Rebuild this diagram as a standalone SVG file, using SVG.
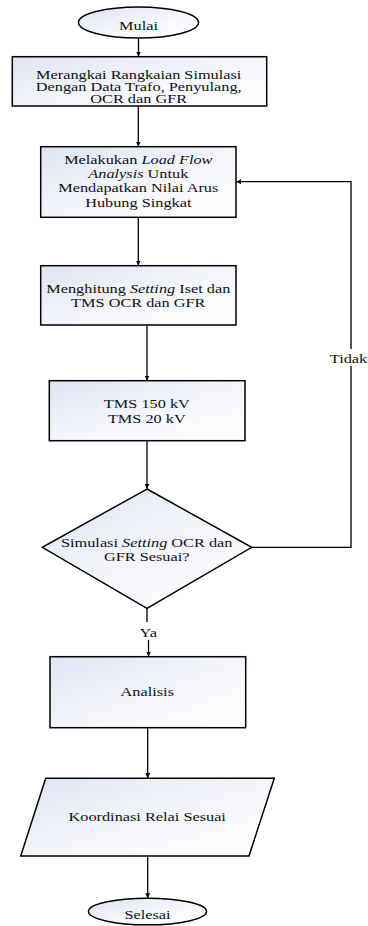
<svg xmlns="http://www.w3.org/2000/svg" width="368" height="926" viewBox="0 0 368 926">
<style>
.t{font-family:"Liberation Serif","Times New Roman",serif;font-size:16.3px;fill:#111;text-anchor:middle}
.tl{font-family:"Liberation Serif","Times New Roman",serif;font-size:16.3px;fill:#111}
.i{font-style:italic}
.shape{fill:url(#g);stroke:#000;stroke-width:1.5}
.c{fill:none;stroke:#000;stroke-width:1.3}
</style>
<defs>
<linearGradient id="g" x1="0" y1="0" x2="1" y2="1">
<stop offset="0" stop-color="#dde4f2"/>
<stop offset="0.6" stop-color="#f7f8fc"/>
<stop offset="1" stop-color="#ffffff"/>
</linearGradient>
<marker id="a" viewBox="0 0 10 10" refX="10" refY="5" markerWidth="5" markerHeight="5" orient="auto" markerUnits="userSpaceOnUse">
<path d="M0,0 L10,5 L0,10 z" fill="#000"/>
</marker>
</defs>
<g id="connectors">
<line class="c" x1="138.5" y1="38" x2="138.5" y2="56.5" marker-end="url(#a)"/>
<line class="c" x1="138.3" y1="106" x2="138.3" y2="146.5" marker-end="url(#a)"/>
<line class="c" x1="138.3" y1="217.3" x2="138.3" y2="265.5" marker-end="url(#a)"/>
<line class="c" x1="147" y1="325" x2="147" y2="380.5" marker-end="url(#a)"/>
<line class="c" x1="147" y1="440.7" x2="147" y2="488.8" marker-end="url(#a)"/>
<polyline class="c" points="251.7,547.3 351,547.3 351,181.7 236.2,181.7" marker-end="url(#a)"/>
<line class="c" x1="147" y1="608.3" x2="147" y2="622"/>
<line class="c" x1="148.5" y1="640" x2="148.5" y2="656.5" marker-end="url(#a)"/>
<line class="c" x1="147.7" y1="727.7" x2="147.7" y2="778.1" marker-end="url(#a)"/>
<line class="c" x1="147.7" y1="856" x2="147.7" y2="898.2" marker-end="url(#a)"/>
<rect x="329" y="349" width="39" height="17" fill="#fff"/>
<text class="tl" transform="matrix(1 0 0 0.82 329.8 363)">Tidak</text>
<text class="t" transform="matrix(1 0 0 0.82 148.3 636.7)">Ya</text>
</g>
<g id="mulai">
<ellipse class="shape" cx="138.5" cy="22.5" rx="60" ry="15.5"/>
<text class="t" transform="matrix(1 0 0 0.82 138.5 29.5)">Mulai</text>
</g>
<g id="merangkai">
<rect class="shape" x="12.3" y="56.7" width="254.4" height="49.3"/>
<text class="t" transform="matrix(1 0 0 0.82 138.7 78.5)">Merangkai Rangkaian Simulasi</text>
<text class="t" transform="matrix(1 0 0 0.82 138.7 91)">Dengan Data Trafo, Penyulang,</text>
<text class="t" transform="matrix(1 0 0 0.82 138.7 103.3)">OCR dan GFR</text>
</g>
<g id="loadflow">
<rect class="shape" x="40.7" y="146.7" width="195.3" height="70.6"/>
<text class="t" transform="matrix(1 0 0 0.82 138.3 163.7)">Melakukan <tspan class="i">Load Flow</tspan></text>
<text class="t" transform="matrix(1 0 0 0.82 138.3 177.7)"><tspan class="i">Analysis</tspan> Untuk</text>
<text class="t" transform="matrix(1 0 0 0.82 138.3 192)">Mendapatkan Nilai Arus</text>
<text class="t" transform="matrix(1 0 0 0.82 138.3 206.7)">Hubung Singkat</text>
</g>
<g id="menghitung">
<rect class="shape" x="40.7" y="265.7" width="195.3" height="59.3"/>
<text class="t" transform="matrix(1 0 0 0.82 138.3 292.7)">Menghitung <tspan class="i">Setting</tspan> Iset dan</text>
<text class="t" transform="matrix(1 0 0 0.82 138.3 307)">TMS OCR dan GFR</text>
</g>
<g id="tms">
<rect class="shape" x="49.3" y="380.7" width="195.7" height="60"/>
<text class="t" transform="matrix(1 0 0 0.82 146.8 407.7)">TMS 150 kV</text>
<text class="t" transform="matrix(1 0 0 0.82 146.8 423.3)">TMS 20 kV</text>
</g>
<g id="simulasi">
<polygon class="shape" points="147,489 251.7,547.3 147,608.3 42.3,547.3"/>
<text class="t" transform="matrix(1 0 0 0.82 146.7 546.7)">Simulasi <tspan class="i">Setting</tspan> OCR dan</text>
<text class="t" transform="matrix(1 0 0 0.82 146.7 561)">GFR Sesuai?</text>
</g>
<g id="analisis">
<rect class="shape" x="50" y="656.7" width="195.7" height="71"/>
<text class="t" transform="matrix(1 0 0 0.82 147.3 696)">Analisis</text>
</g>
<g id="koordinasi">
<polygon class="shape" points="45.7,778.3 274.3,778.3 249,856 20.7,856"/>
<text class="t" transform="matrix(1 0 0 0.82 147.2 821)">Koordinasi Relai Sesuai</text>
</g>
<g id="selesai">
<ellipse class="shape" cx="147.5" cy="911.5" rx="59" ry="13.3"/>
<text class="t" transform="matrix(1 0 0 0.82 147.5 918.5)">Selesai</text>
</g>
</svg>
